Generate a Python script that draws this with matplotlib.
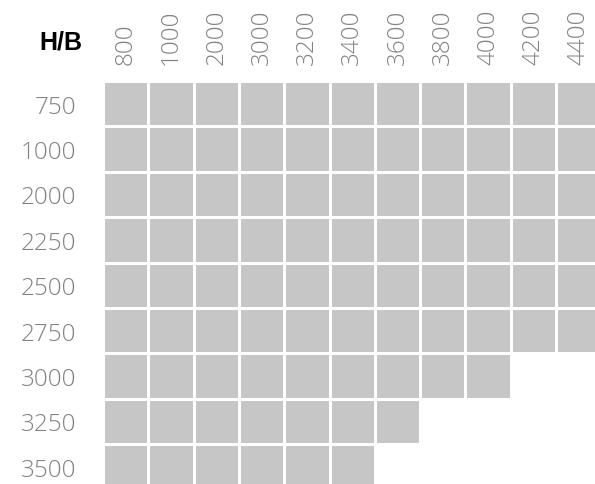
import numpy as np
import matplotlib
matplotlib.use('Agg')
import matplotlib.pyplot as plt
from matplotlib.colors import ListedColormap

# Widths (B) along the top, heights (H) down the side
widths = [800, 1000, 2000, 3000, 3200, 3400, 3600, 3800, 4000, 4200, 4400]
heights = [750, 1000, 2000, 2250, 2500, 2750, 3000, 3250, 3500]
# largest width available for each height
max_width = [4400, 4400, 4400, 4400, 4400, 4400, 4000, 3600, 3400]

avail = np.array([[1.0 if w <= mw else np.nan for w in widths] for mw in max_width])

fig = plt.figure(figsize=(5.95, 4.85), dpi=100)
W, H = 595, 485
ax = fig.add_axes([103 / W, 0, 1 - 103 / W, (H - 82) / H])

pitch_x = 45.3
pitch_y = 45.4
ax.pcolormesh(np.arange(len(widths) + 1), np.arange(len(heights) + 1),
              np.ma.masked_invalid(avail), cmap=ListedColormap(['#c6c6c6']),
              edgecolors='white', linewidth=2)
ax.set_xlim(0, (W - 103) / pitch_x)
ax.set_ylim((H - 82) / pitch_y, 0)

lab_font = dict(family=['Open Sans', 'DejaVu Sans'], weight='light', size=17.5, color='#838383')
ax.set_xticks(np.arange(len(widths)) + 0.5)
ax.set_xticklabels([str(w) for w in widths], rotation=90, **lab_font)
ax.set_yticks(np.arange(len(heights)) + 0.5)
ax.set_yticklabels([str(h) for h in heights], **lab_font)
ax.xaxis.tick_top()
ax.tick_params(axis='x', length=0, pad=12)
ax.tick_params(axis='y', length=0, pad=19)
for s in ax.spines.values():
    s.set_visible(False)

fig.text(61 / W, 1 - 42 / H, 'H/B', ha='center', va='center', fontsize=18,
         fontweight='bold', family=['Liberation Sans', 'DejaVu Sans'], color='black')

fig.savefig('out.png', dpi=100)
